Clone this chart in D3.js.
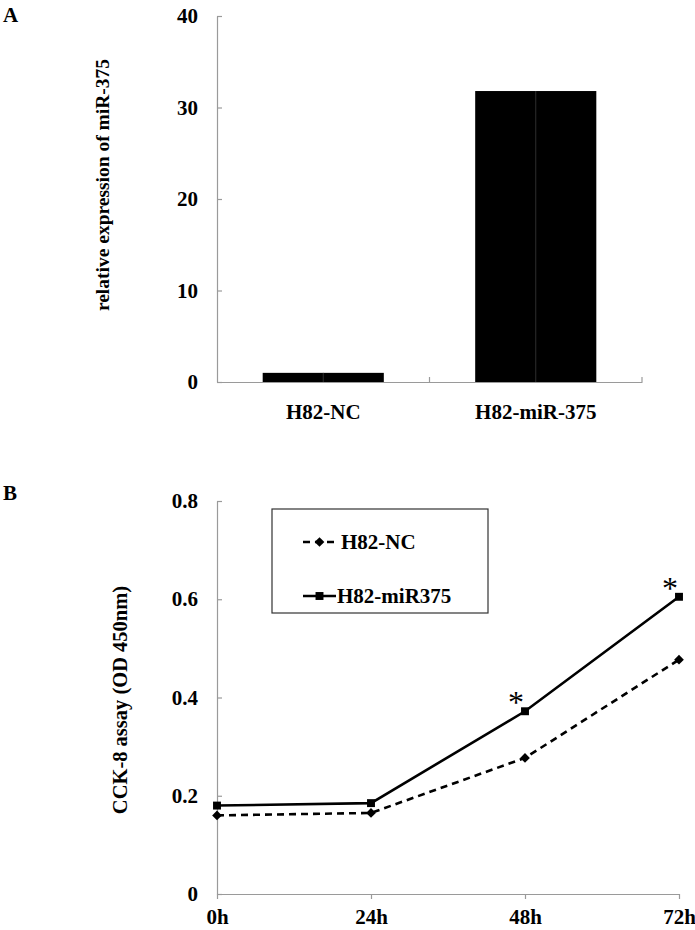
<!DOCTYPE html>
<html>
<head>
<meta charset="utf-8">
<script src="https://cdn.jsdelivr.net/npm/d3@7"></script>
<style>
  html, body { margin: 0; padding: 0; background: #fff; }
  svg { display: block; }
  text { font-family: "Liberation Serif", "Times New Roman", serif; fill: #000; }
</style>
</head>
<body>
<svg id="chart" width="695" height="930"></svg>
<script>
// ---------- Data ----------
const barCategories = ["H82-NC", "H82-miR-375"];
const barValues = [1.0, 31.8];
const barTicks = [0, 10, 20, 30, 40];

const timePoints = ["0h", "24h", "48h", "72h"];
const seriesNC = [0.160, 0.165, 0.277, 0.477];
const seriesMiR = [0.180, 0.185, 0.372, 0.605];
const lineTicks = [0, 0.2, 0.4, 0.6, 0.8];
const significant = [false, false, true, true];
const legendLabels = ["H82-NC", "H82-miR375"];

const svg = d3.select("#chart");
const axisColor = "#9a9a9a";

function styleAxis(g) {
  g.selectAll("path.domain").attr("stroke", axisColor).attr("stroke-width", 1.2);
  g.selectAll(".tick line").attr("stroke", axisColor).attr("stroke-width", 1.2);
  g.selectAll(".tick text").attr("font-family", "Liberation Serif, serif")
    .style("font-weight", "bold").attr("font-size", 21).attr("fill", "#000");
}

// ---------- Panel A ----------
const xA = d3.scaleBand().domain(barCategories).range([217, 642]).paddingInner(0.43).paddingOuter(0.215);
const yA = d3.scaleLinear().domain([0, 40]).range([382, 16]);

svg.append("text").attr("x", 3).attr("y", 22).attr("font-size", 21).style("font-weight", "bold").text("A");

const gA = svg.append("g");
gA.selectAll("rect.bar").data(barValues).join("rect")
  .attr("class", "bar")
  .attr("x", (d, i) => xA(barCategories[i]))
  .attr("y", d => yA(d))
  .attr("width", xA.bandwidth())
  .attr("height", d => yA(0) - yA(d))
  .attr("fill", "#000");
// faint center seam in bars
gA.selectAll("line.seam").data(barValues).join("line")
  .attr("class", "seam")
  .attr("x1", (d, i) => xA(barCategories[i]) + xA.bandwidth() / 2)
  .attr("x2", (d, i) => xA(barCategories[i]) + xA.bandwidth() / 2)
  .attr("y1", d => yA(d)).attr("y2", yA(0))
  .attr("stroke", "#3a3a3a").attr("stroke-width", 0.8);

const yAxisA = svg.append("g").attr("transform", "translate(217,0)")
  .call(d3.axisLeft(yA).tickValues(barTicks).tickSizeInner(-5).tickSizeOuter(0).tickPadding(19));
styleAxis(yAxisA);

const xAxisA = svg.append("g").attr("transform", `translate(0,${yA(0)})`)
  .call(d3.axisBottom(xA).tickSize(0).tickPadding(22));
styleAxis(xAxisA);
// category boundary ticks (pointing up)
const boundariesA = barCategories.map((c, i) => xA.range()[0] + xA.step() * (i + 1));
xAxisA.selectAll("line.bound").data(boundariesA).join("line")
  .attr("class", "bound")
  .attr("x1", d => d).attr("x2", d => d).attr("y1", 0).attr("y2", -5)
  .attr("stroke", axisColor).attr("stroke-width", 1.2);

svg.append("text")
  .attr("transform", `translate(109,185) rotate(-90)`)
  .attr("text-anchor", "middle")
  .attr("font-size", 19.5)
  .style("font-weight", "bold")
  .text("relative expression of miR-375");

// ---------- Panel B ----------
const xB = d3.scalePoint().domain(timePoints).range([217, 679]);
const yB = d3.scaleLinear().domain([0, 0.8]).range([894, 501]);

svg.append("text").attr("x", 3).attr("y", 500).attr("font-size", 21).style("font-weight", "bold").text("B");

const yAxisB = svg.append("g").attr("transform", "translate(217,0)")
  .call(d3.axisLeft(yB).tickValues(lineTicks).tickFormat(d => d === 0 ? "0" : d3.format(".1f")(d))
    .tickSizeInner(-5).tickSizeOuter(0).tickPadding(19));
styleAxis(yAxisB);

const xAxisB = svg.append("g").attr("transform", `translate(0,${yB(0)})`)
  .call(d3.axisBottom(xB).tickSizeInner(5).tickSizeOuter(0).tickPadding(10));
styleAxis(xAxisB);

svg.append("text")
  .attr("transform", `translate(127,700) rotate(-90)`)
  .attr("text-anchor", "middle")
  .attr("font-size", 20.5)
  .style("font-weight", "bold")
  .text("CCK-8 assay (OD 450nm)");

const line = d3.line().x((d, i) => xB(timePoints[i])).y(d => yB(d));

svg.append("path").datum(seriesNC)
  .attr("d", line).attr("fill", "none").attr("stroke", "#000")
  .attr("stroke-width", 2.6).attr("stroke-dasharray", "7,5");
svg.append("path").datum(seriesMiR)
  .attr("d", line).attr("fill", "none").attr("stroke", "#000")
  .attr("stroke-width", 2.6);

const diamond = d3.symbol().type(d3.symbolDiamond2).size(60);
const square = d3.symbol().type(d3.symbolSquare2).size(80);

svg.selectAll("path.dNC").data(seriesNC).join("path")
  .attr("class", "dNC")
  .attr("d", diamond)
  .attr("transform", (d, i) => `translate(${xB(timePoints[i])},${yB(d)})`)
  .attr("fill", "#000");
svg.selectAll("path.sMiR").data(seriesMiR).join("path")
  .attr("class", "sMiR")
  .attr("d", square)
  .attr("transform", (d, i) => `translate(${xB(timePoints[i])},${yB(d)})`)
  .attr("fill", "#000");

// significance asterisks
const starData = timePoints.map((t, i) => ({ t, v: seriesMiR[i], s: significant[i] })).filter(d => d.s);
svg.selectAll("text.star").data(starData).join("text")
  .attr("class", "star")
  .attr("x", d => xB(d.t) - 9)
  .attr("y", d => yB(d.v) + 2)
  .attr("text-anchor", "middle")
  .style("font-weight", "normal")
  .attr("font-size", 32)
  .text("*");

// legend
const lg = svg.append("g");
lg.append("rect").attr("x", 272).attr("y", 509).attr("width", 216).attr("height", 104)
  .attr("fill", "none").attr("stroke", "#333").attr("stroke-width", 1.2);
const legendRows = [
  { label: legendLabels[0], y: 542, dash: "7,5", sym: diamond },
  { label: legendLabels[1], y: 596, dash: null, sym: square }
];
legendRows.forEach(r => {
  lg.append("line").attr("x1", 303).attr("x2", 336).attr("y1", r.y).attr("y2", r.y)
    .attr("stroke", "#000").attr("stroke-width", 2.6).attr("stroke-dasharray", r.dash);
  lg.append("path").attr("d", r.sym).attr("transform", `translate(319.5,${r.y})`).attr("fill", "#000");
  lg.append("text").attr("x", r.dash ? 341 : 337).attr("y", r.y + 7).attr("font-size", 21)
    .style("font-weight", "bold").text(r.label);
});
</script>
</body>
</html>
